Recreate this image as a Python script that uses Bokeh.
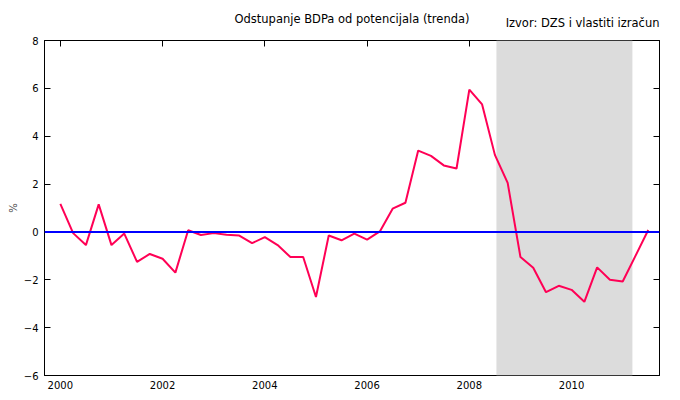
import numpy as np
from bokeh.plotting import figure
from bokeh.models import (BoxAnnotation, Span, Label, LinearAxis, FixedTicker,
                          Range1d)
from bokeh.embed import file_html
from bokeh.resources import INLINE

# ---- data -------------------------------------------------------------
title_text = "Odstupanje BDPa od potencijala (trenda)"
source_text = "Izvor: DZS i vlastiti izračun"
y_label = "%"

start_year = 2000          # first quarter: 2000 Q1
gap = [1.17, -0.05, -0.55, 1.15, -0.55, -0.07, -1.25, -0.92, -1.12, -1.70,
       0.07, -0.13, -0.05, -0.12, -0.15, -0.47, -0.22, -0.55, -1.05, -1.05,
       -2.72, -0.15, -0.35, -0.07, -0.32, 0.02, 0.97, 1.22, 3.40, 3.18,
       2.78, 2.65, 5.95, 5.33, 3.22, 2.05, -1.05, -1.50, -2.52, -2.25,
       -2.42, -2.92, -1.48, -2.00, -2.07, -1.00, 0.08]
recession = (2008.53, 2011.19)
x_ticks = [2000, 2002, 2004, 2006, 2008, 2010]
y_ticks = [-6, -4, -2, 0, 2, 4, 6, 8]
x_lim = (1999.69, 2011.72)
y_lim = (-6, 8)

t = start_year + np.arange(len(gap)) / 4.0

FONT = "DejaVu Sans"

p = figure(width=664, height=392, output_backend="svg", toolbar_location=None,
           x_range=Range1d(*x_lim), y_range=Range1d(*y_lim),
           min_border_left=44, min_border_right=5, min_border_top=40,
           min_border_bottom=17, background_fill_color="white",
           border_fill_color="white")
p.grid.visible = False
p.outline_line_color = "black"
p.outline_line_width = 1

p.title.text = title_text
p.title.align = "center"
p.title.text_font = FONT
p.title.text_font_size = "11.5px"
p.title.text_font_style = "normal"
p.title.text_color = "black"
p.title.standoff = 1

# bottom axis: labels only
xa = p.xaxis[0]
xa.ticker = FixedTicker(ticks=x_ticks)
xa.major_tick_in = 0
xa.major_tick_out = 0
xa.minor_tick_in = 0
xa.minor_tick_out = 0
xa.major_label_text_font = FONT
xa.major_label_text_font_size = "10px"
xa.major_label_text_color = "black"
xa.major_label_standoff = 5

# left axis
ya = p.yaxis[0]
ya.ticker = FixedTicker(ticks=y_ticks)
ya.major_tick_in = 6
ya.major_tick_out = 0
ya.minor_tick_in = 0
ya.minor_tick_out = 0
ya.major_label_text_font = FONT
ya.major_label_text_font_size = "10px"
ya.major_label_text_color = "black"
ya.major_label_standoff = 6
ya.axis_label = y_label
ya.axis_label_text_font = FONT
ya.axis_label_text_font_size = "10px"
ya.axis_label_text_font_style = "normal"
ya.axis_label_standoff = 2

# top axis: inward ticks only (labels not painted)
ta = LinearAxis(ticker=FixedTicker(ticks=x_ticks), major_tick_in=6,
                major_tick_out=0, minor_tick_in=0, minor_tick_out=0,
                major_label_text_font_size="1px", major_label_text_color=None,
                major_label_standoff=0)
p.add_layout(ta, "above")
# right axis: inward ticks only
ra = LinearAxis(ticker=FixedTicker(ticks=y_ticks), major_tick_in=6,
                major_tick_out=0, minor_tick_in=0, minor_tick_out=0,
                major_label_text_font_size="1px", major_label_text_color=None,
                major_label_standoff=0)
p.add_layout(ra, "right")

band = BoxAnnotation(left=recession[0], right=recession[1],
                     fill_color="#dcdcdc", fill_alpha=1.0, line_alpha=0,
                     level="annotation")
p.add_layout(band)

zero = Span(location=0, dimension="width", line_color="#0000ff",
            line_width=2, level="overlay")
p.add_layout(zero)

r = p.line(t, gap, line_color="#ff0055", line_width=2)
r.level = "overlay"

src = Label(x=x_lim[1], y=0, x_units="data", y_units="screen",
            text=source_text, text_align="right",
            text_baseline="middle", y_offset=18, text_font=FONT,
            text_font_size="11.5px", text_color="black")
p.add_layout(src, "above")

open("out.html", "w").write(file_html(p, INLINE))
